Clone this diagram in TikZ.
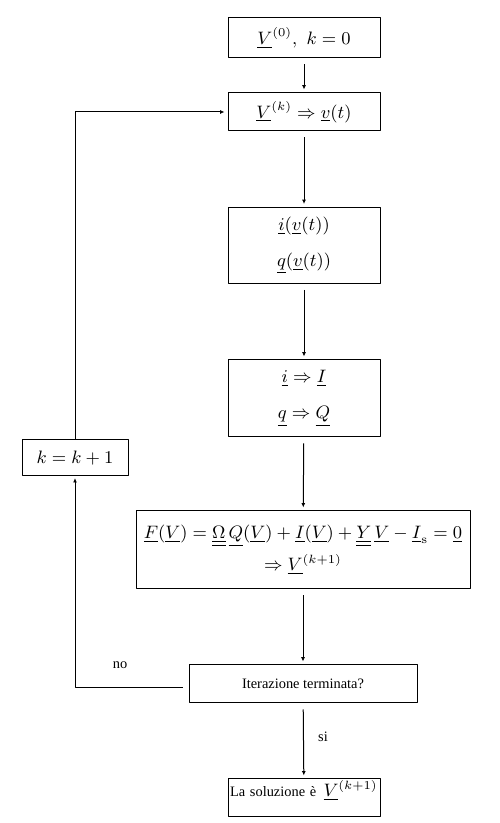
\documentclass[tikz,border=0pt]{standalone}
\usepackage{amsmath, amssymb}
\usepackage{fontspec}
\usepackage{tikz}
\usetikzlibrary{arrows.meta, calc}
\newfontfamily\tnr{Liberation Serif}
\newcommand{\ul}[1]{\underline{#1}}
\newcommand{\uul}[1]{\underline{\underline{#1}}}

\begin{document}
\begin{tikzpicture}[x=0.5pt, y=0.5pt, line join=round,
    bx/.style={draw, line width=0.5pt, inner sep=0pt, minimum width=76pt,
               minimum height=19pt, align=center, font=\fontsize{9}{11}\selectfont},
    ar/.style={-{Latex[length=2.2pt, width=2pt]}, line width=0.5pt,
               shorten <=3pt, shorten >=1.5pt},
    tx/.style={font=\tnr\fontsize{7.2}{9}\selectfont}]
  \useasboundingbox (0,0) rectangle (499,823);
  \node[bx, minimum height=20pt] (b1) at (304,785)   {$\ul{V}^{(0)},\ k=0$};
  \node[bx]                      (b2) at (304,711)   {$\ul{V}^{(k)}\Rightarrow \ul{v}(t)$};
  \node[bx, minimum height=38pt] (b3) at (304,577.5) {$\ul{i}(\ul{v}(t))$\\[7pt]$\ul{q}(\ul{v}(t))$};
  \node[bx, minimum height=38.5pt] (b4) at (304,424.5) {$\ul{i}\Rightarrow\ul{I}$\\[7pt]$\ul{q}\Rightarrow\ul{Q}$};
  \node[bx, minimum width=167pt, minimum height=39pt] (b5) at (303,273)
    {$\ul{F}(\ul{V})=\uul{\Omega}\,\ul{Q}(\ul{V})+\ul{I}(\ul{V})+\uul{Y}\,\ul{V}-\ul{I}_{\mathrm{s}}=\ul{0}$\\[3pt]
     $\Rightarrow\ul{V}^{(k+1)}$};
  \node[bx, tx, minimum width=114pt] (b6) at (303,139) {Iterazione terminata?};
  \node[bx, tx, align=left, text width=74pt, text height=8.5pt, text depth=9.5pt,
        inner sep=0.5pt, inner xsep=1pt] (b7) at (304,25)
    {La soluzione è \,{\fontsize{9}{11}\selectfont$\ul{V}^{(k+1)}$}};
  \node[bx, minimum width=53pt, minimum height=18pt] (bk) at (75,365) {$k=k+1$};
  % main chain
  \draw[ar] (b1) -- (b2);
  \draw[ar] (b2) -- (b3);
  \draw[ar] (b3) -- (b4);
  \draw[ar] (b4) -- (b5);
  \draw[ar] (b5) -- (b6);
  \draw[ar] (b6) -- (b7);
  % loop back
  \draw[ar, shorten <=0pt] (bk.north) |- (b2.west);
  \draw[ar, shorten >=0.8pt] ([yshift=-2pt]b6.west) -| (bk.south);
  \node[tx] (lblno) at (120,158) {no};
  \node[tx] (lblsi) at (323,86) {si};
\end{tikzpicture}
\end{document}
